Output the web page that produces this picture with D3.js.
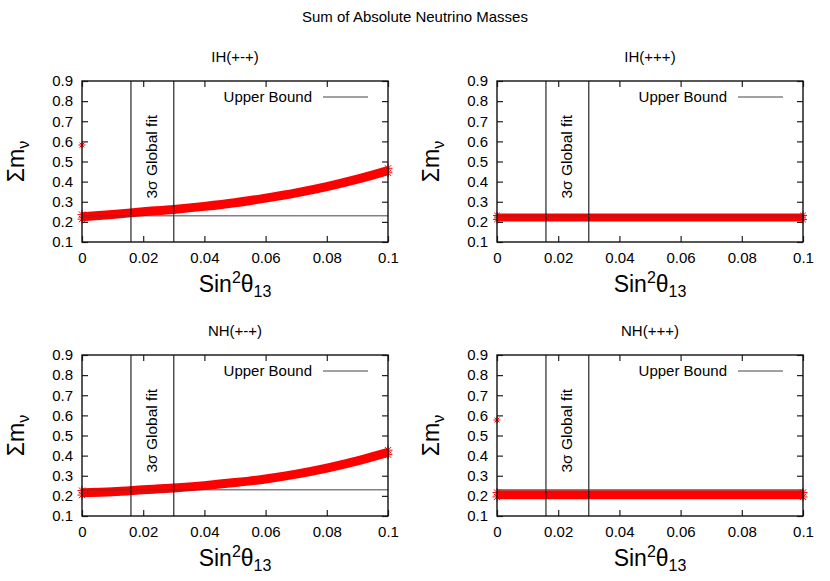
<!DOCTYPE html>
<html>
<head>
<meta charset="utf-8">
<script src="https://cdn.jsdelivr.net/npm/d3@7"></script>
<style>
  body { margin: 0; background: #fff; }
  svg { font-family: "Liberation Sans", Arial, sans-serif; }
</style>
</head>
<body>
<script>
const width = 830;
const height = 581;

// chart values
const xValues = [0, 0.01, 0.02, 0.03, 0.04, 0.05, 0.06, 0.07, 0.08, 0.09, 0.1];
const ihPmp = [0.225, 0.237, 0.250, 0.262, 0.277, 0.295, 0.318, 0.344, 0.375, 0.412, 0.455];
const ihPpp = [0.222, 0.222, 0.222, 0.222, 0.222, 0.222, 0.222, 0.222, 0.222, 0.222, 0.222];
const nhPmp = [0.215, 0.221, 0.230, 0.239, 0.251, 0.266, 0.284, 0.308, 0.338, 0.374, 0.416];
const nhPpp = [0.206, 0.206, 0.206, 0.206, 0.206, 0.206, 0.206, 0.206, 0.206, 0.206, 0.206];
const outliers = [[0.582], [], [], [0.577]]; // extra points at x = 0
const panelTitles = ['IH(+-+)', 'IH(+++)', 'NH(+-+)', 'NH(+++)'];
const upperBound = 0.23;
const fitRange = [0.016, 0.030];
const xTicks = [0, 0.02, 0.04, 0.06, 0.08, 0.1];
const yTicks = [0.1, 0.2, 0.3, 0.4, 0.5, 0.6, 0.7, 0.8, 0.9];

const series = [ihPmp, ihPpp, nhPmp, nhPpp];
const bandWidth = [9, 8, 9, 9];

const panels = [
  {left: 82, top: 81},
  {left: 497, top: 81},
  {left: 82, top: 355},
  {left: 497, top: 355}
];
const pw = 306, ph = 161;

const svg = d3.select('body').append('svg')
  .attr('width', width)
  .attr('height', height);

svg.append('text')
  .attr('x', 415)
  .attr('y', 22)
  .attr('text-anchor', 'middle')
  .attr('font-size', 15)
  .text('Sum of Absolute Neutrino Masses');

// draws an asterisk (gnuplot point type 3)
function star(g, cx, cy, r, sw) {
  const p = `M${cx - r},${cy}L${cx + r},${cy}M${cx},${cy - r}L${cx},${cy + r}` +
            `M${cx - r * 0.7},${cy - r * 0.7}L${cx + r * 0.7},${cy + r * 0.7}` +
            `M${cx - r * 0.7},${cy + r * 0.7}L${cx + r * 0.7},${cy - r * 0.7}`;
  g.append('path').attr('d', p).attr('stroke', 'red').attr('stroke-width', sw).attr('fill', 'none');
}

panels.forEach((pn, i) => {
  const x = d3.scaleLinear().domain([0, 0.1]).range([0, pw]);
  const y = d3.scaleLinear().domain([0.1, 0.9]).range([ph, 0]);

  const g = svg.append('g').attr('transform', `translate(${pn.left},${pn.top})`);

  g.append('text')
    .attr('x', pw / 2)
    .attr('y', -19)
    .attr('text-anchor', 'middle')
    .attr('font-size', 15)
    .text(panelTitles[i]);

  // axes with inward ticks, mirrored
  const xAxis = g.append('g').attr('transform', `translate(0,${ph})`)
    .call(d3.axisBottom(x).tickValues(xTicks).tickSize(-6).tickPadding(10)
      .tickFormat(d => d === 0 ? '0' : d3.format('.2~f')(d)));
  const yAxis = g.append('g')
    .call(d3.axisLeft(y).tickValues(yTicks).tickSize(-6).tickPadding(9)
      .tickFormat(d3.format('.1f')));
  const xTop = g.append('g')
    .call(d3.axisTop(x).tickValues(xTicks).tickSize(-6).tickFormat(''));
  const yRight = g.append('g').attr('transform', `translate(${pw},0)`)
    .call(d3.axisRight(y).tickValues(yTicks).tickSize(-6).tickFormat(''));
  [xAxis, yAxis, xTop, yRight].forEach(a => {
    a.select('.domain').remove();
    a.selectAll('line').attr('stroke', '#222').attr('stroke-width', 1.2);
    a.selectAll('text').attr('font-size', 15).attr('fill', '#000')
      .attr('font-family', '"Liberation Sans", Arial, sans-serif');
  });

  // data band
  const pts = xValues.map((v, k) => [x(v), y(series[i][k])]);
  g.append('path')
    .attr('d', d3.line().curve(d3.curveMonotoneX)(pts))
    .attr('fill', 'none')
    .attr('stroke', 'red')
    .attr('stroke-width', bandWidth[i]);
  const r = bandWidth[i] / 2;
  [pts[0], pts[pts.length - 1]].forEach(p => {
    star(g, p[0], p[1] - r / 2, r, 1);
    star(g, p[0], p[1] + r / 2, r, 1);
  });
  outliers[i].forEach(v => star(g, x(0), y(v), 3.5, 1));

  // 3 sigma global fit lines
  fitRange.forEach(v => {
    g.append('line')
      .attr('x1', x(v)).attr('x2', x(v))
      .attr('y1', 0).attr('y2', ph)
      .attr('stroke', '#111').attr('stroke-width', 1.1);
  });
  g.append('text')
    .attr('transform', `translate(${(x(fitRange[0]) + x(fitRange[1])) / 2 + 5},${ph * 0.47}) rotate(-90)`)
    .attr('text-anchor', 'middle')
    .attr('font-size', 15.5)
    .text('3σ Global fit');

  // upper bound line
  g.append('line')
    .attr('x1', 0).attr('x2', pw)
    .attr('y1', y(upperBound)).attr('y2', y(upperBound))
    .attr('stroke', '#444').attr('stroke-width', 1);

  // legend
  g.append('text')
    .attr('x', 230)
    .attr('y', 21)
    .attr('text-anchor', 'end')
    .attr('font-size', 15)
    .text('Upper Bound');
  g.append('line')
    .attr('x1', 241).attr('x2', 286)
    .attr('y1', 16).attr('y2', 16)
    .attr('stroke', '#444').attr('stroke-width', 1);

  // frame
  g.append('rect')
    .attr('width', pw).attr('height', ph)
    .attr('fill', 'none').attr('stroke', '#111').attr('stroke-width', 1.4);

  // axis labels
  const yl = g.append('text')
    .attr('transform', `translate(-58,${ph / 2}) rotate(-90)`)
    .attr('text-anchor', 'middle')
    .attr('font-size', 23);
  yl.append('tspan').text('Σm');
  yl.append('tspan').attr('font-size', 16).attr('dy', 5).text('ν');

  const xl = g.append('text')
    .attr('x', pw / 2)
    .attr('y', ph + 50)
    .attr('text-anchor', 'middle')
    .attr('font-size', 23);
  xl.append('tspan').text('Sin');
  xl.append('tspan').attr('font-size', 16).attr('dy', -9).text('2');
  xl.append('tspan').attr('dy', 9).text('θ');
  xl.append('tspan').attr('font-size', 16).attr('dy', 5).text('13');
});
</script>
</body>
</html>
